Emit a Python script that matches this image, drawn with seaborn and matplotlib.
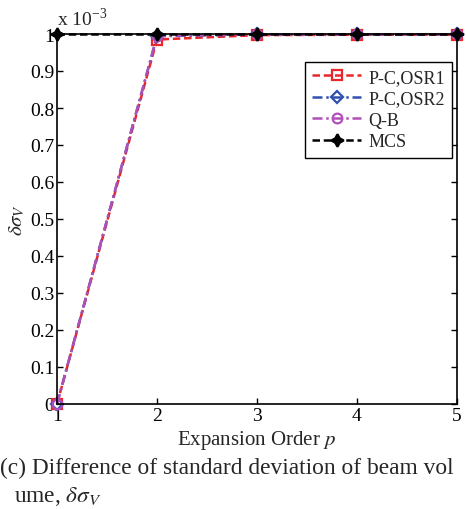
import matplotlib
matplotlib.use("Agg")
import matplotlib.pyplot as plt
import seaborn as sns
import pandas as pd

sns.set_theme(style="white")
plt.rcParams['font.family'] = ['Liberation Serif', 'DejaVu Serif']
plt.rcParams['mathtext.fontset'] = 'stix'

orders = [1, 2, 3, 4, 5]
pc_osr1 = [0.0, 0.985, 0.997, 0.998, 0.998]
pc_osr2 = [0.0, 0.994, 0.999, 0.999, 0.999]
qb = [0.0, 0.995, 0.999, 0.999, 0.999]
mcs = [1.0, 1.0, 1.0, 1.0, 1.0]
yticks = [0, 0.1, 0.2, 0.3, 0.4, 0.5, 0.6, 0.7, 0.8, 0.9, 1]
ytick_labels = ["0", "0.1", "0.2", "0.3", "0.4", "0.5", "0.6", "0.7", "0.8", "0.9", "1"]

fig = plt.figure(figsize=(4.66, 5.10), dpi=100)
ax = fig.add_axes([57/466, 1-405/510, 400/466, 370/510])

series = [
    ("P-C,OSR1", pc_osr1, "#e8262b", (0, (3, 1.5)), "s", "none", 7),
    ("P-C,OSR2", pc_osr2, "#3050b0", (0, (4, 1.5, 1, 1.5)), "D", "none", 6.5),
    ("Q-B", qb, "#b050b8", (0, (4, 1.5, 1, 1.5)), "o", "none", 7),
    ("MCS", mcs, "black", (0, (3, 1.5)), (4, 1, 0), "black", 9),
]
for name, vals, color, ls, mk, mfc, ms in series:
    df = pd.DataFrame({"p": orders, "v": vals})
    sns.lineplot(data=df, x="p", y="v", ax=ax, color=color, linestyle=ls,
                 linewidth=1.8, marker=mk, markersize=ms,
                 markerfacecolor=mfc, markeredgecolor=color, markeredgewidth=1.6,
                 label=name, clip_on=False)

ax.set_xlim(1, 5)
ax.set_ylim(0, 1)
ax.set_xticks(orders)
ax.set_xticklabels([str(o) for o in orders], fontsize=14)
ax.set_yticks(yticks)
ax.set_yticklabels(ytick_labels, fontsize=14)
ax.tick_params(direction='in', length=4, width=1, top=True, right=True,
               bottom=True, left=True, pad=2, colors='black')
for s in ax.spines.values():
    s.set_color('black')
    s.set_linewidth(1.2)
ax.set_xlabel(r"Expansion Order $p$", fontsize=15, labelpad=3)
ax.set_ylabel(r"$\delta\sigma_V$", fontsize=15, labelpad=2)
ax.text(0.0, 1.012, r"x 10$^{\mathregular{-3}}$", transform=ax.transAxes,
        fontsize=14, ha='left', va='bottom')

leg = ax.legend(loc='upper left', bbox_to_anchor=(0.598, 0.95), fontsize=13,
                frameon=True, fancybox=False, framealpha=1, borderpad=0.4,
                handlelength=2.7, labelspacing=0.25, handletextpad=0.4)
leg.get_frame().set_edgecolor('black')
leg.get_frame().set_linewidth(1.0)

fig.text(0.0, 1-468/510, "(c) Difference of standard deviation of beam vol",
         fontsize=16.8, ha='left', va='center')
fig.text(0.03, 1-497/510, r"ume, $\delta\sigma_V$", fontsize=16.8, ha='left', va='center')

fig.savefig("out.png", dpi=100)
